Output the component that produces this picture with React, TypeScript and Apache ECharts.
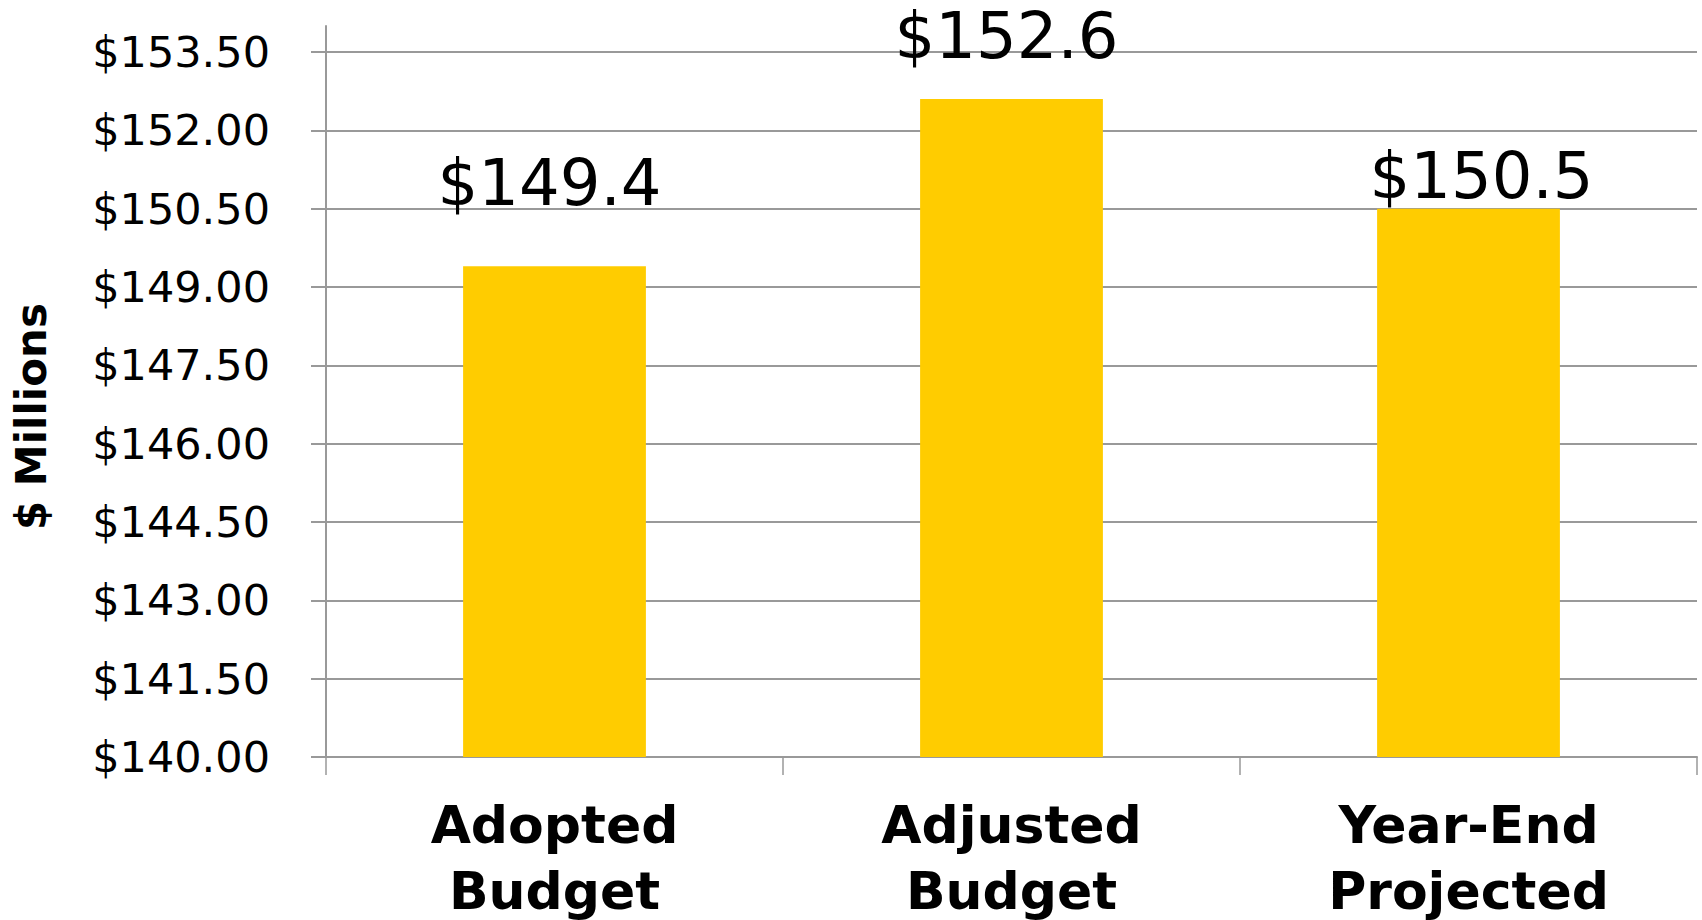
import React, { useEffect, useRef } from "react";
import * as echarts from "echarts";

const categories = ["Adopted\nBudget", "Adjusted\nBudget", "Year-End\nProjected"];
const values = [149.4, 152.6, 150.5];
const valueLabels = ["$149.4", "$152.6", "$150.5"];
const labelOffsets = [[-5, -59], [-5, -39], [13, -9]];
const yMin = 140;
const yMax = 154;
const yStep = 1.5;

export default function App() {
  const ref = useRef<HTMLDivElement>(null);
  useEffect(() => {
    const chart = echarts.init(ref.current!, null, { renderer: "svg" });
    const font = "'DejaVu Sans', Verdana, sans-serif";
    chart.setOption({
      animation: false,
      backgroundColor: "#ffffff",
      grid: {
        left: 326,
        right: 5,
        top: 26,
        bottom: 163,
        containLabel: false,
        outerBoundsMode: "none",
      },
      xAxis: {
        type: "category",
        data: categories,
        axisLine: { lineStyle: { color: "#999999", width: 2 } },
        axisTick: { show: true, length: 18, lineStyle: { color: "#999999", width: 1.5 } },
        axisLabel: {
          color: "#000000",
          fontFamily: font,
          fontWeight: "bold",
          fontSize: 52,
          lineHeight: 66,
          margin: 35,
          interval: 0,
        },
      },
      yAxis: {
        type: "value",
        min: yMin,
        max: yMax,
        interval: yStep,
        name: "$ Millions",
        nameLocation: "middle",
        nameRotate: 90,
        nameGap: 274,
        nameTextStyle: {
          color: "#000000",
          fontFamily: font,
          fontWeight: "bold",
          fontSize: 42,
          padding: [0, 50, 0, 0],
        },
        axisLine: { show: true, lineStyle: { color: "#999999", width: 2 } },
        axisTick: { show: true, length: 15, lineStyle: { color: "#999999", width: 2 } },
        splitLine: { show: true, showMaxLine: false, lineStyle: { color: "#999999", width: 2 } },
        axisLabel: {
          color: "#000000",
          fontFamily: font,
          fontSize: 43,
          margin: 56,
          showMaxLabel: false,
          formatter: (v: number) => "$" + v.toFixed(2),
        },
      },
      series: [
        {
          type: "bar",
          data: values.map((v, i) => ({
            value: v,
            label: { formatter: valueLabels[i], offset: labelOffsets[i] },
          })),
          barCategoryGap: "60%",
          itemStyle: { color: "#FFCC00" },
          label: {
            show: true,
            position: "top",
            distance: 0,
            color: "#000000",
            fontFamily: font,
            fontSize: 64,
            lineHeight: 48,
          },
        },
      ],
    });
    return () => chart.dispose();
  }, []);
  return (
    <div
      ref={ref}
      style={{ position: "fixed", left: 0, top: 0, width: 1702, height: 920, background: "#fff" }}
    />
  );
}
